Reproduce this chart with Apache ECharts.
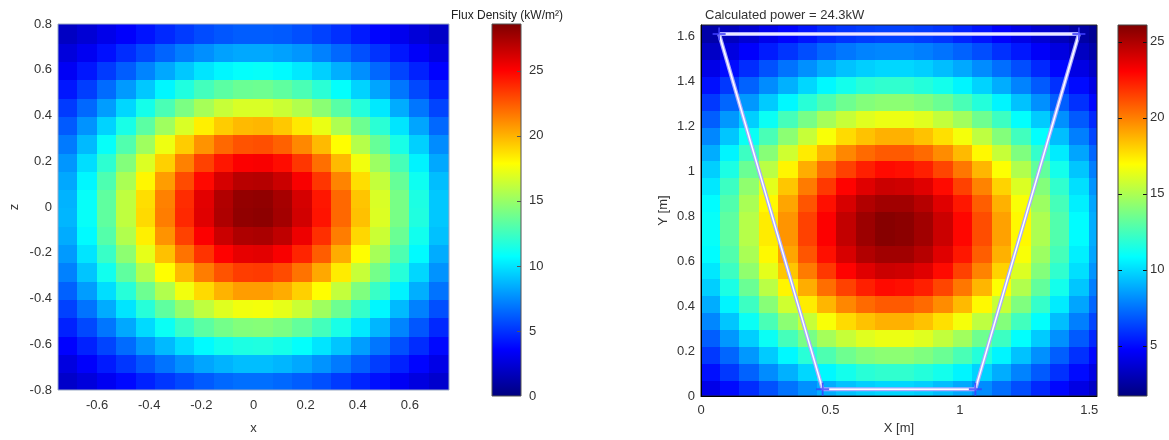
<!DOCTYPE html>
<html>
<head>
<meta charset="utf-8">
<script src="https://cdn.jsdelivr.net/npm/echarts@6/dist/echarts.min.js"></script>
<style>
  html, body { margin: 0; padding: 0; background: #fff; }
  #chart { width: 1169px; height: 440px; }
</style>
</head>
<body>
<div id="chart"></div>
<script>
// ---- left panel: flux density on the x / z plane (kW/m²) ----
var leftX = [-0.7125, -0.6375, -0.5625, -0.4875, -0.4125, -0.3375, -0.2625, -0.1875, -0.1125, -0.0375,
             0.0375, 0.1125, 0.1875, 0.2625, 0.3375, 0.4125, 0.4875, 0.5625, 0.6375, 0.7125];
var leftZ = [-0.76, -0.68, -0.6, -0.52, -0.44, -0.36, -0.28, -0.2, -0.12, -0.04,
             0.04, 0.12, 0.2, 0.28, 0.36, 0.44, 0.52, 0.6, 0.68, 0.76];
// rows go bottom (z = -0.76) to top (z = 0.76)
var leftFlux = [
  [2.1,2.6,3.2,3.8,4.5,5.1,5.6,6.1,6.5,6.7,6.7,6.5,6.2,5.8,5.2,4.6,4.0,3.3,2.7,2.2],
  [2.7,3.5,4.3,5.1,6.0,6.8,7.6,8.2,8.6,8.9,8.9,8.7,8.3,7.7,7.0,6.2,5.3,4.5,3.7,2.9],
  [3.6,4.5,5.5,6.6,7.8,8.8,9.8,10.6,11.2,11.5,11.6,11.3,10.8,10.0,9.1,8.0,6.9,5.8,4.8,3.8],
  [4.5,5.6,6.9,8.3,9.7,11.0,12.3,13.3,14.0,14.4,14.5,14.2,13.5,12.6,11.4,10.1,8.7,7.3,6.0,4.7],
  [5.4,6.8,8.4,10.0,11.8,13.4,14.9,16.1,17.0,17.5,17.6,17.2,16.4,15.2,13.8,12.2,10.5,8.8,7.2,5.8],
  [6.3,8.0,9.8,11.8,13.8,15.7,17.5,18.9,20.0,20.6,20.6,20.2,19.2,17.9,16.2,14.3,12.3,10.4,8.5,6.8],
  [7.2,9.1,11.2,13.4,15.7,17.9,19.8,21.5,22.7,23.3,23.4,22.9,21.8,20.3,18.4,16.3,14.0,11.8,9.6,7.7],
  [7.9,10.0,12.3,14.7,17.2,19.6,21.8,23.6,25.0,25.7,25.8,25.2,24.0,22.4,20.2,17.9,15.4,12.9,10.6,8.4],
  [8.4,10.6,13.1,15.7,18.3,20.9,23.2,25.1,26.5,27.3,27.4,26.8,25.5,23.7,21.5,19.0,16.4,13.7,11.2,9.0],
  [8.7,10.9,13.4,16.1,18.9,21.5,23.9,25.9,27.3,28.1,28.2,27.6,26.3,24.5,22.1,19.6,16.9,14.1,11.6,9.2],
  [8.6,10.9,13.4,16.1,18.8,21.4,23.8,25.8,27.2,28.0,28.1,27.5,26.2,24.4,22.1,19.5,16.8,14.1,11.5,9.2],
  [8.3,10.5,12.9,15.5,18.1,20.6,22.9,24.8,26.2,27.0,27.1,26.5,25.2,23.5,21.3,18.8,16.2,13.6,11.1,8.9],
  [7.8,9.8,12.0,14.4,16.9,19.2,21.4,23.2,24.4,25.1,25.2,24.7,23.5,21.9,19.8,17.5,15.1,12.7,10.4,8.3],
  [7.0,8.8,10.9,13.0,15.2,17.4,19.3,20.9,22.1,22.7,22.8,22.3,21.2,19.8,17.9,15.8,13.6,11.4,9.4,7.5],
  [6.1,7.7,9.5,11.4,13.3,15.2,16.8,18.3,19.3,19.8,19.9,19.4,18.5,17.3,15.6,13.8,11.9,10.0,8.2,6.5],
  [5.2,6.5,8.0,9.6,11.3,12.8,14.2,15.4,16.3,16.8,16.8,16.4,15.7,14.6,13.2,11.7,10.1,8.4,6.9,5.5],
  [4.2,5.3,6.6,7.9,9.2,10.5,11.6,12.6,13.3,13.7,13.8,13.4,12.8,11.9,10.8,9.5,8.2,6.9,5.6,4.5],
  [3.3,4.2,5.2,6.2,7.3,8.3,9.2,10.0,10.5,10.8,10.9,10.6,10.1,9.4,8.5,7.6,6.5,5.5,4.5,3.6],
  [2.6,3.2,4.0,4.8,5.6,6.4,7.1,7.6,8.1,8.3,8.3,8.1,7.8,7.2,6.5,5.8,5.0,4.2,3.4,2.7],
  [1.9,2.4,3.0,3.5,4.1,4.7,5.2,5.7,6.0,6.2,6.2,6.1,5.8,5.4,4.9,4.3,3.7,3.1,2.5,2.0]
];
var leftXTicks = [-0.6, -0.4, -0.2, 0, 0.2, 0.4, 0.6];
var leftZTicks = [-0.8, -0.6, -0.4, -0.2, 0, 0.2, 0.4, 0.6, 0.8];
var leftBarTicks = [0, 5, 10, 15, 20, 25];
var leftRange = [0, 28.6];

// ---- right panel: flux on the target, X / Y in metres ----
var rightX = [0.0375, 0.1125, 0.1875, 0.2625, 0.3375, 0.4125, 0.4875, 0.5625, 0.6375, 0.7125, 0.7875,
              0.8625, 0.9375, 1.0125, 1.0875, 1.1625, 1.2375, 1.3125, 1.3875, 1.4625, 1.5375];
var rightY = [0.0375, 0.1125, 0.1875, 0.2625, 0.3375, 0.4125, 0.4875, 0.5625, 0.6375, 0.7125, 0.7875,
              0.8625, 0.9375, 1.0125, 1.0875, 1.1625, 1.2375, 1.3125, 1.3875, 1.4625, 1.5375, 1.6125];
var rightFlux = [
  [4.2,5.0,5.8,6.7,7.5,8.2,8.9,9.4,9.7,9.9,9.9,9.7,9.3,8.8,8.1,7.4,6.6,5.7,4.9,4.1,3.4],
  [5.1,6.1,7.1,8.1,9.0,9.9,10.7,11.3,11.8,12.0,12.0,11.7,11.3,10.6,9.8,8.9,7.9,6.9,5.9,5.0,4.1],
  [6.1,7.2,8.4,9.6,10.7,11.8,12.7,13.5,14.0,14.2,14.2,13.9,13.4,12.6,11.7,10.6,9.4,8.2,7.0,5.9,4.9],
  [7.0,8.4,9.7,11.1,12.5,13.7,14.8,15.6,16.2,16.5,16.5,16.2,15.5,14.7,13.5,12.3,10.9,9.6,8.2,6.9,5.7],
  [8.0,9.5,11.1,12.6,14.2,15.6,16.8,17.8,18.4,18.8,18.8,18.4,17.7,16.7,15.4,14.0,12.4,10.9,9.3,7.8,6.4],
  [8.9,10.6,12.3,14.1,15.8,17.4,18.7,19.8,20.5,20.9,20.9,20.5,19.7,18.6,17.1,15.6,13.9,12.1,10.4,8.7,7.2],
  [9.7,11.5,13.4,15.3,17.2,18.9,20.4,21.5,22.3,22.8,22.7,22.3,21.4,20.2,18.7,16.9,15.1,13.2,11.3,9.5,7.8],
  [10.3,12.3,14.3,16.3,18.3,20.1,21.7,23.0,23.8,24.3,24.2,23.8,22.8,21.5,19.9,18.0,16.1,14.0,12.0,10.1,8.3],
  [10.8,12.8,14.9,17.1,19.1,21.0,22.7,24.0,24.9,25.3,25.3,24.8,23.8,22.5,20.8,18.8,16.8,14.6,12.5,10.5,8.7],
  [11.0,13.1,15.2,17.4,19.5,21.5,23.1,24.5,25.4,25.9,25.8,25.3,24.3,22.9,21.2,19.2,17.1,15.0,12.8,10.8,8.9],
  [11.0,13.1,15.2,17.4,19.5,21.5,23.1,24.5,25.4,25.9,25.8,25.3,24.3,22.9,21.2,19.2,17.1,15.0,12.8,10.8,8.9],
  [10.8,12.8,14.9,17.1,19.1,21.0,22.7,24.0,24.9,25.3,25.3,24.8,23.8,22.5,20.8,18.8,16.8,14.6,12.5,10.5,8.7],
  [10.3,12.3,14.3,16.3,18.3,20.1,21.7,23.0,23.8,24.3,24.2,23.8,22.8,21.5,19.9,18.0,16.1,14.0,12.0,10.1,8.3],
  [9.7,11.5,13.4,15.3,17.2,18.9,20.4,21.5,22.3,22.8,22.7,22.3,21.4,20.2,18.7,16.9,15.1,13.2,11.3,9.5,7.8],
  [8.9,10.6,12.3,14.1,15.8,17.4,18.7,19.8,20.5,20.9,20.9,20.5,19.7,18.6,17.1,15.6,13.9,12.1,10.4,8.7,7.2],
  [8.0,9.5,11.1,12.6,14.2,15.6,16.8,17.8,18.4,18.8,18.8,18.4,17.7,16.7,15.4,14.0,12.4,10.9,9.3,7.8,6.4],
  [7.0,8.4,9.7,11.1,12.5,13.7,14.8,15.6,16.2,16.5,16.5,16.2,15.5,14.7,13.5,12.3,10.9,9.6,8.2,6.9,5.7],
  [6.1,7.2,8.4,9.6,10.7,11.8,12.7,13.5,14.0,14.2,14.2,13.9,13.4,12.6,11.7,10.6,9.4,8.2,7.0,5.9,4.9],
  [5.1,6.1,7.1,8.1,9.0,9.9,10.7,11.3,11.8,12.0,12.0,11.7,11.3,10.6,9.8,8.9,7.9,6.9,5.9,5.0,4.1],
  [4.2,5.0,5.8,6.7,7.5,8.2,8.9,9.4,9.7,9.9,9.9,9.7,9.3,8.8,8.1,7.4,6.6,5.7,4.9,4.1,3.4],
  [3.4,4.0,4.7,5.4,6.0,6.6,7.2,7.6,7.9,8.0,8.0,7.8,7.5,7.1,6.6,5.9,5.3,4.6,4.0,3.3,2.7],
  [2.7,3.2,3.7,4.3,4.8,5.2,5.7,6.0,6.2,6.3,6.3,6.2,6.0,5.6,5.2,4.7,4.2,3.7,3.1,2.6,2.2]
];
var rightXTicks = [0, 0.5, 1, 1.5];
var rightYTicks = [0, 0.2, 0.4, 0.6, 0.8, 1, 1.2, 1.4, 1.6];
var rightBarTicks = [5, 10, 15, 20, 25];
var rightRange = [1.7, 26.1];
// receiver outline (trapezoid), closed
var outline = [[0.07, 1.61], [1.46, 1.61], [1.06, 0.03], [0.47, 0.03], [0.07, 1.61]];

var jet = ['#00007f', '#0000ff', '#007fff', '#00ffff', '#7fff7f', '#ffff00', '#ff7f00', '#ff0000', '#7f0000'];
var font = 'Liberation Sans, Arial, sans-serif';

function toCells(xs, ys, rows) {
  var out = [];
  for (var j = 0; j < ys.length; j++) {
    for (var i = 0; i < xs.length; i++) {
      out.push([xs[i], ys[j], rows[j][i]]);
    }
  }
  return out;
}

function cellItem(dx, dy) {
  return function (params, api) {
    var x = api.value(0), y = api.value(1);
    var a = api.coord([x - dx / 2, y + dy / 2]);
    var b = api.coord([x + dx / 2, y - dy / 2]);
    var x0 = Math.floor(a[0]), y0 = Math.floor(a[1]);
    return {
      type: 'rect',
      shape: { x: x0, y: y0, width: Math.ceil(b[0]) - x0 + 1, height: Math.ceil(b[1]) - y0 + 1 },
      style: { fill: api.visual('color') }
    };
  };
}

// colour bar: gradient plus short inward ticks on the chosen edges
function barItem(range, ticks, leftTicks, tickColor) {
  return function (params, api) {
    var a = api.coord([0, range[1]]);
    var b = api.coord([1, range[0]]);
    var kids = [{
      type: 'rect',
      shape: { x: a[0], y: a[1], width: b[0] - a[0], height: b[1] - a[1] },
      style: {
        fill: new echarts.graphic.LinearGradient(0, 1, 0, 0, jet.map(function (c, i) {
          return { offset: i / (jet.length - 1), color: c };
        }))
      }
    }];
    ticks.forEach(function (t) {
      var y = Math.round(api.coord([0, t])[1]) + 0.5;
      kids.push({ type: 'line', shape: { x1: b[0] - 4, y1: y, x2: b[0], y2: y },
                  style: { stroke: tickColor, lineWidth: 1 } });
      if (leftTicks) {
        kids.push({ type: 'line', shape: { x1: a[0], y1: y, x2: a[0] + 4, y2: y },
                    style: { stroke: tickColor, lineWidth: 1 } });
      }
    });
    return { type: 'group', children: kids };
  };
}

var chart = echarts.init(document.getElementById('chart'));

var labelL = { color: '#333', fontSize: 13, fontFamily: font };
var labelR = { color: '#333', fontSize: 13, fontFamily: font };

var option = {
  animation: false,
  backgroundColor: '#fff',
  textStyle: { fontFamily: font },
  title: [
    { text: 'Flux Density (kW/m²)', left: 446, top: 5,
      textStyle: { fontSize: 12, fontWeight: 'normal', color: '#222', fontFamily: font } },
    { text: 'Calculated power = 24.3kW', left: 700, top: 4,
      textStyle: { fontSize: 13, fontWeight: 'normal', color: '#333', fontFamily: font } }
  ],
  grid: [
    { left: 58, top: 24, width: 391, height: 372, show: true, z: 5, borderColor: '#9aaac4', borderWidth: 1 },
    { left: 492, top: 24, width: 29, height: 372, show: true, z: 5, borderColor: '#555', borderWidth: 1 },
    { left: 701, top: 25, width: 396, height: 371, show: true, z: 5, borderColor: '#222', borderWidth: 1 },
    { left: 1118, top: 25, width: 29, height: 371, show: true, z: 5, borderColor: '#444', borderWidth: 1 }
  ],
  visualMap: [
    { type: 'continuous', show: false, seriesIndex: 0, dimension: 2,
      min: leftRange[0], max: leftRange[1], inRange: { color: jet } },
    { type: 'continuous', show: false, seriesIndex: 2, dimension: 2,
      min: rightRange[0], max: rightRange[1], inRange: { color: jet } }
  ],
  xAxis: [
    { type: 'value', gridIndex: 0, min: -0.75, max: 0.75, splitLine: { show: false },
      axisLine: { show: false }, axisTick: { show: false },
      axisLabel: Object.assign({ customValues: leftXTicks, margin: 9 }, labelL),
      name: 'x', nameLocation: 'middle', nameGap: 32, nameTextStyle: labelL },
    { type: 'value', gridIndex: 1, min: 0, max: 1, show: false },
    { type: 'value', gridIndex: 2, min: 0, max: 1.53, splitLine: { show: false }, z: 6,
      axisLine: { show: true, onZero: false, lineStyle: { color: '#000', width: 1 } },
      axisTick: { show: false },
      axisLabel: Object.assign({ customValues: rightXTicks, margin: 8 }, labelR),
      name: 'X [m]', nameLocation: 'middle', nameGap: 25, nameTextStyle: labelR },
    { type: 'value', gridIndex: 3, min: 0, max: 1, show: false }
  ],
  yAxis: [
    { type: 'value', gridIndex: 0, min: -0.8, max: 0.8, splitLine: { show: false },
      axisLine: { show: false }, axisTick: { show: false },
      axisLabel: Object.assign({ customValues: leftZTicks, margin: 6 }, labelL),
      name: 'z', nameLocation: 'middle', nameGap: 37, nameRotate: 90, nameTextStyle: labelL },
    { type: 'value', gridIndex: 1, position: 'right', min: leftRange[0], max: leftRange[1],
      splitLine: { show: false }, axisLine: { show: false }, axisTick: { show: false },
      axisLabel: Object.assign({ customValues: leftBarTicks, margin: 8 }, labelL) },
    { type: 'value', gridIndex: 2, min: 0, max: 1.65, splitLine: { show: false }, z: 6,
      axisLine: { show: true, onZero: false, lineStyle: { color: '#000', width: 1 } },
      axisTick: { show: false },
      axisLabel: Object.assign({ customValues: rightYTicks, margin: 6 }, labelR),
      name: 'Y [m]', nameLocation: 'middle', nameGap: 31, nameRotate: 90, nameTextStyle: labelR },
    { type: 'value', gridIndex: 3, position: 'right', min: rightRange[0], max: rightRange[1],
      splitLine: { show: false }, axisLine: { show: false }, axisTick: { show: false },
      axisLabel: Object.assign({ customValues: rightBarTicks, margin: 3 }, labelR) }
  ],
  series: [
    { type: 'custom', xAxisIndex: 0, yAxisIndex: 0, clip: true,
      renderItem: cellItem(leftX[1] - leftX[0], leftZ[1] - leftZ[0]),
      encode: { x: 0, y: 1 }, data: toCells(leftX, leftZ, leftFlux) },
    { type: 'custom', xAxisIndex: 1, yAxisIndex: 1,
      renderItem: barItem(leftRange, leftBarTicks.slice(1), false, '#555'),
      data: [[0, leftRange[0]]] },
    { type: 'custom', xAxisIndex: 2, yAxisIndex: 2, clip: true,
      renderItem: cellItem(rightX[1] - rightX[0], rightY[1] - rightY[0]),
      encode: { x: 0, y: 1 }, data: toCells(rightX, rightY, rightFlux) },
    { type: 'custom', xAxisIndex: 3, yAxisIndex: 3,
      renderItem: barItem(rightRange, rightBarTicks, true, '#111'),
      data: [[0, rightRange[0]]] },
    { type: 'line', xAxisIndex: 2, yAxisIndex: 2, data: outline, symbol: 'none', z: 3,
      lineStyle: { color: '#a8a8ff', width: 4 } },
    { type: 'line', xAxisIndex: 2, yAxisIndex: 2, data: outline, symbol: 'none', z: 4,
      lineStyle: { color: '#ffffff', width: 1.5 } },
    { type: 'scatter', xAxisIndex: 2, yAxisIndex: 2, data: outline.slice(0, 4), z: 5,
      symbol: 'path://M4.3,0h1.4v4.3h4.3v1.4h-4.3v4.3h-1.4v-4.3h-4.3v-1.4h4.3z', symbolSize: 13,
      itemStyle: { color: '#3c3cff' } }
  ]
};

chart.setOption(option);
</script>
</body>
</html>
